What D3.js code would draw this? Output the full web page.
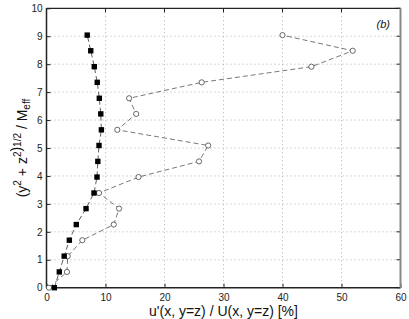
<!DOCTYPE html>
<html>
<head>
<meta charset="utf-8">
<script src="https://cdn.jsdelivr.net/npm/d3@7"></script>
<style>
  body { margin: 0; background: #fff; }
  svg { display: block; font-family: "Liberation Sans", Arial, sans-serif; }
</style>
</head>
<body>
<svg id="chart" width="409" height="319"></svg>
<script>
// y positions (same for both series)
const yPos = [0, 0.565, 1.13, 1.70, 2.26, 2.83, 3.39, 3.96, 4.52, 5.09, 5.65, 6.22, 6.78, 7.35, 7.91, 8.48, 9.04]
// filled squares
const squareX = [1.33, 2.17, 3.0, 3.87, 5.05, 6.7, 8.05, 8.56, 8.7, 8.9, 9.3, 9.2, 8.95, 8.6, 8.1, 7.5, 6.9]
// open circles
const circleX = [0.42, 3.47, 3.6, 6.07, 11.4, 12.3, 8.9, 15.6, 25.85, 27.4, 12.0, 15.2, 14.0, 26.3, 44.9, 51.9, 40.0]
const xTicks = [0, 10, 20, 30, 40, 50, 60]
const yTicks = [0, 1, 2, 3, 4, 5, 6, 7, 8, 9, 10]

const svg = d3.select('#chart')
const mLeft = 46.5, mRight = 400.5, mTop = 8.3, mBottom = 287.7

const x = d3.scaleLinear().domain([0, 60]).range([mLeft, mRight])
const y = d3.scaleLinear().domain([0, 10]).range([mBottom, mTop])

// grid
svg.append('g')
  .selectAll('line')
  .data(xTicks.slice(1, -1))
  .join('line')
  .attr('x1', d => x(d)).attr('x2', d => x(d))
  .attr('y1', mTop).attr('y2', mBottom)
  .style('stroke', '#b0b0b0')
  .style('stroke-width', 1)
  .style('stroke-dasharray', '1,3')

svg.append('g')
  .selectAll('line')
  .data(yTicks.slice(1, -1))
  .join('line')
  .attr('y1', d => y(d)).attr('y2', d => y(d))
  .attr('x1', mLeft).attr('x2', mRight)
  .style('stroke', '#b0b0b0')
  .style('stroke-width', 1)
  .style('stroke-dasharray', '1,3')

// axes with inward ticks
const xAxis = d3.axisBottom(x).tickValues(xTicks).tickSizeInner(-4).tickSizeOuter(0).tickPadding(4)
const yAxis = d3.axisLeft(y).tickValues(yTicks).tickSizeInner(-4).tickSizeOuter(0).tickPadding(4)

const gx = svg.append('g').attr('transform', `translate(0,${mBottom})`).call(xAxis)
const gy = svg.append('g').attr('transform', `translate(${mLeft},0)`).call(yAxis)
;[gx, gy].forEach(g => {
  g.select('.domain').remove()
  g.selectAll('line').style('stroke', '#222')
  g.selectAll('text').style('font-size', '10px').style('fill', '#222')
})
// tick lines drawn inward, labels kept outside
gx.selectAll('text').attr('y', 6)
gy.selectAll('text').attr('x', -4)

// top / right ticks
svg.append('g').selectAll('line').data(xTicks).join('line')
  .attr('x1', d => x(d)).attr('x2', d => x(d))
  .attr('y1', mTop).attr('y2', mTop + 4)
  .style('stroke', '#222')
svg.append('g').selectAll('line').data(yTicks).join('line')
  .attr('y1', d => y(d)).attr('y2', d => y(d))
  .attr('x1', mRight).attr('x2', mRight - 4)
  .style('stroke', '#222')

// frame
svg.append('line').attr('x1', mLeft).attr('x2', mRight).attr('y1', mBottom).attr('y2', mBottom).style('stroke', '#222').style('stroke-width', 1.5)
svg.append('line').attr('x1', mLeft).attr('x2', mLeft).attr('y1', mTop).attr('y2', mBottom).style('stroke', '#222').style('stroke-width', 1.5)
svg.append('line').attr('x1', mLeft).attr('x2', mRight).attr('y1', mTop).attr('y2', mTop).style('stroke', '#222').style('stroke-width', 1.2)
svg.append('line').attr('x1', mRight).attr('x2', mRight).attr('y1', mTop).attr('y2', mBottom).style('stroke', '#888').style('stroke-width', 2)

// lines
const line = d3.line().x(d => x(d[0])).y(d => y(d[1]))
const circleData = circleX.map((v, i) => [v, yPos[i]])
const squareData = squareX.map((v, i) => [v, yPos[i]])

svg.append('path')
  .datum(circleData)
  .attr('d', line)
  .style('fill', 'none')
  .style('stroke', '#555')
  .style('stroke-width', 0.8)
  .style('stroke-dasharray', '5,3')

svg.append('path')
  .datum(squareData)
  .attr('d', line)
  .style('fill', 'none')
  .style('stroke', '#333')
  .style('stroke-width', 0.8)
  .style('stroke-dasharray', '5,3')

svg.append('g').selectAll('circle')
  .data(circleData)
  .join('circle')
  .attr('cx', d => x(d[0]))
  .attr('cy', d => y(d[1]))
  .attr('r', 2.6)
  .style('fill', '#fff')
  .style('stroke', '#444')
  .style('stroke-width', 0.8)

svg.append('g').selectAll('rect')
  .data(squareData)
  .join('rect')
  .attr('x', d => x(d[0]) - 2.7)
  .attr('y', d => y(d[1]) - 2.7)
  .attr('width', 5.4)
  .attr('height', 5.4)
  .style('fill', '#000')

// labels
svg.append('text')
  .attr('x', (mLeft + mRight) / 2)
  .attr('y', 316)
  .attr('text-anchor', 'middle')
  .style('font-size', '14px')
  .style('fill', '#111')
  .text("u'(x, y=z) / U(x, y=z) [%]")

const yl = svg.append('text')
  .attr('transform', `translate(27,${(mTop + mBottom) / 2}) rotate(-90)`)
  .attr('text-anchor', 'middle')
  .style('font-size', '14px')
  .style('fill', '#111')
yl.append('tspan').text('(y')
yl.append('tspan').attr('dy', -6).style('font-size', '10px').text('2')
yl.append('tspan').attr('dy', 6).text(' + z')
yl.append('tspan').attr('dy', -6).style('font-size', '10px').text('2')
yl.append('tspan').attr('dy', 0).text(')')
yl.append('tspan').attr('dy', 0).style('font-size', '10px').text('1/2')
yl.append('tspan').attr('dy', 6).text(' / M')
yl.append('tspan').attr('dy', 3).style('font-size', '10px').text('eff')

svg.append('text')
  .attr('x', 390)
  .attr('y', 28)
  .attr('text-anchor', 'end')
  .style('font-size', '11px')
  .style('font-style', 'italic')
  .style('fill', '#111')
  .text('(b)')
</script>
</body>
</html>
